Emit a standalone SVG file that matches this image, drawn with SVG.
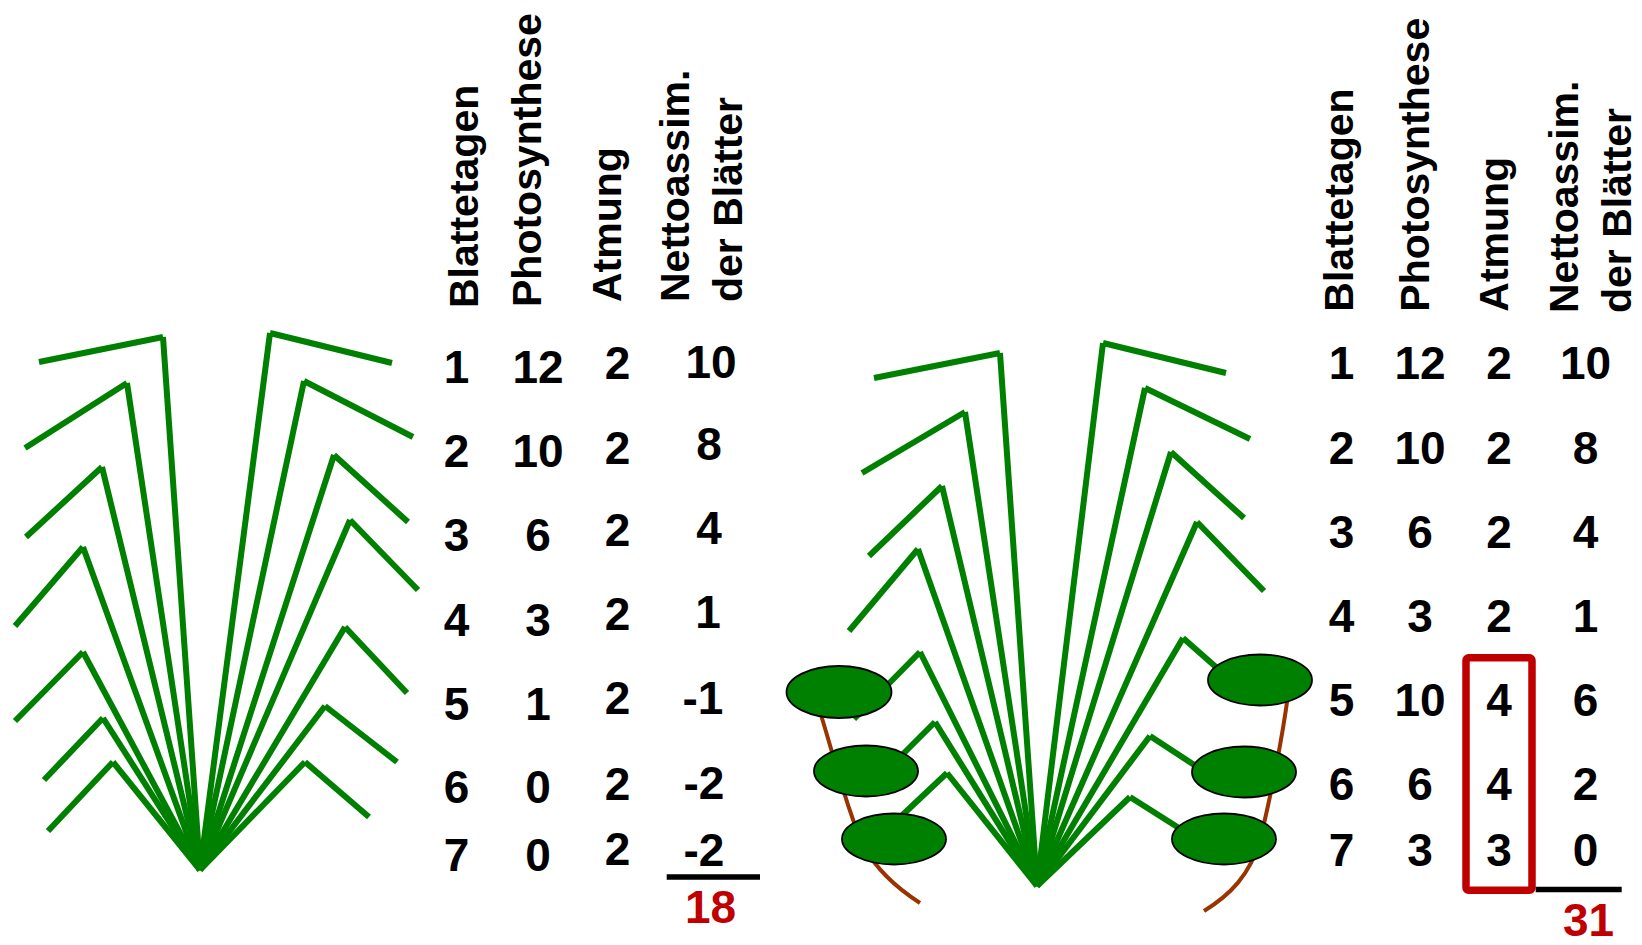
<svg xmlns="http://www.w3.org/2000/svg" width="1642" height="945" viewBox="0 0 1642 945">
  <style>
    .leaf { fill: none; stroke: #008000; stroke-width: 6; stroke-linecap: butt; }
    .stem { fill: none; stroke: #993300; stroke-width: 4; }
    .pad { fill: #008000; stroke: #000; stroke-width: 1.8; }
    .h { font-family: "Liberation Sans", Arial, sans-serif; font-weight: bold; font-size: 41px; fill: #000; }
    .n { font-family: "Liberation Sans", Arial, sans-serif; font-weight: bold; font-size: 46px; fill: #000; text-anchor: middle; }
    .sum { fill: #C00000; }
    .rule { stroke: #000; stroke-width: 5.5; }
  </style>
  <defs>
    <filter id="soft" x="-10%" y="-20%" width="120%" height="140%">
      <feGaussianBlur stdDeviation="0.6"/>
    </filter>
  </defs>

  <!-- Plant without shading: seven leaf tiers on one base -->
  <g id="plant-left">
    <path class="leaf" d="M39,362 L163,337 M163,337 L200,870"/>
    <path class="leaf" d="M25,448 L127,383 M127,383 L200,870"/>
    <path class="leaf" d="M26,537 L102,467 M102,467 L200,870"/>
    <path class="leaf" d="M15,626 L83,547 M83,547 L200,870"/>
    <path class="leaf" d="M15,721 L83,652 M83,652 L200,870"/>
    <path class="leaf" d="M44,780 L103,718 M103,718 L200,870"/>
    <path class="leaf" d="M48,831 L113,762 M113,762 L200,870"/>
    <path class="leaf" d="M392,363 L270,333 M270,333 L200,870"/>
    <path class="leaf" d="M413,437 L304,381 M304,381 L200,870"/>
    <path class="leaf" d="M408,522 L334,455 M334,455 L200,870"/>
    <path class="leaf" d="M418,590 L350,520 M350,520 L200,870"/>
    <path class="leaf" d="M407,693 L345,627 M345,627 L200,870"/>
    <path class="leaf" d="M397,762 L325,706 M325,706 L200,870"/>
    <path class="leaf" d="M369,817 L305,762 M305,762 L200,870"/>
  </g>

  <!-- Table for the unshaded plant -->
  <g id="table-left">
    <text class="h" transform="translate(477.5,308) rotate(-90)">Blattetagen</text>
    <text class="h" transform="translate(541,307) rotate(-90)">Photosynthese</text>
    <text class="h" transform="translate(621,302) rotate(-90)">Atmung</text>
    <text class="h" transform="translate(689,302) rotate(-90)">Nettoassim.</text>
    <text class="h" transform="translate(742,302) rotate(-90)">der Blätter</text>

    <text class="n" x="456.5" y="383">1</text>
    <text class="n" x="456.5" y="467">2</text>
    <text class="n" x="456.5" y="551">3</text>
    <text class="n" x="456.5" y="636">4</text>
    <text class="n" x="456.5" y="720">5</text>
    <text class="n" x="456.5" y="803">6</text>
    <text class="n" x="456.5" y="871">7</text>

    <text class="n" x="538" y="383">12</text>
    <text class="n" x="538" y="467">10</text>
    <text class="n" x="538" y="551">6</text>
    <text class="n" x="538" y="636">3</text>
    <text class="n" x="538" y="720">1</text>
    <text class="n" x="538" y="803">0</text>
    <text class="n" x="538" y="871">0</text>

    <text class="n" x="617.5" y="379">2</text>
    <text class="n" x="617.5" y="463.5">2</text>
    <text class="n" x="617.5" y="546">2</text>
    <text class="n" x="617.5" y="630">2</text>
    <text class="n" x="617.5" y="714">2</text>
    <text class="n" x="617.5" y="800">2</text>
    <text class="n" x="617.5" y="865">2</text>

    <text class="n" x="711" y="378">10</text>
    <text class="n" x="709" y="460">8</text>
    <text class="n" x="709" y="544">4</text>
    <text class="n" x="708" y="628">1</text>
    <text class="n" x="703" y="714">-1</text>
    <text class="n" x="704" y="798.5">-2</text>
    <text class="n" x="704" y="866">-2</text>

    <line class="rule" x1="666.7" y1="877" x2="760" y2="877"/>
    <text class="n sum" x="710.5" y="923">18</text>
  </g>

  <!-- Plant with shaded lower leaves -->
  <g id="plant-right">
    <path class="stem" d="M818,705 C835,760 850,820 865,848 C878,872 900,890 920,903"/>
    <path class="stem" d="M1288,695 C1282,740 1270,800 1260,840 C1250,875 1230,895 1204,911"/>

    <path class="leaf" d="M874,378 L1000,353 M1000,353 L1037,886"/>
    <path class="leaf" d="M862,473 L965,412 M965,412 L1037,886"/>
    <path class="leaf" d="M869,556 L942,486 M942,486 L1037,886"/>
    <path class="leaf" d="M849,631 L918,549 M918,549 L1037,886"/>
    <path class="leaf" d="M854,719 L920,652 M920,652 L1037,886"/>
    <path class="leaf" d="M900,757 L935,722 M935,722 L1037,886"/>
    <path class="leaf" d="M895,822 L947,773 M947,773 L1037,886"/>
    <path class="leaf" d="M1226,373 L1103,343 M1103,343 L1037,886"/>
    <path class="leaf" d="M1250,439 L1145,388 M1145,388 L1037,886"/>
    <path class="leaf" d="M1244,518 L1171,452 M1171,452 L1037,886"/>
    <path class="leaf" d="M1264,591 L1197,522 M1197,522 L1037,886"/>
    <path class="leaf" d="M1225,675 L1183,638 M1183,638 L1037,886"/>
    <path class="leaf" d="M1205,772 L1150,736 M1150,736 L1037,886"/>
    <path class="leaf" d="M1190,835 L1130,797 M1130,797 L1037,886"/>

    <ellipse class="pad" cx="839" cy="692" rx="52.5" ry="26" filter="url(#soft)"/>
    <ellipse class="pad" cx="866" cy="771" rx="52" ry="25.5" filter="url(#soft)"/>
    <ellipse class="pad" cx="894" cy="839" rx="52" ry="25.5"/>
    <ellipse class="pad" cx="1260" cy="680" rx="52" ry="25.5"/>
    <ellipse class="pad" cx="1244" cy="772" rx="52" ry="25.5"/>
    <ellipse class="pad" cx="1224" cy="839" rx="52" ry="25.5"/>
  </g>

  <!-- Table for the shaded plant -->
  <g id="table-right">
    <text class="h" transform="translate(1352.7,311.7) rotate(-90)">Blattetagen</text>
    <text class="h" transform="translate(1429.4,311.7) rotate(-90)">Photosynthese</text>
    <text class="h" transform="translate(1507.7,311.7) rotate(-90)">Atmung</text>
    <text class="h" transform="translate(1577.7,313) rotate(-90)">Nettoassim.</text>
    <text class="h" transform="translate(1631,313) rotate(-90)">der Blätter</text>

    <text class="n" x="1341.5" y="379.3">1</text>
    <text class="n" x="1341.5" y="463.5">2</text>
    <text class="n" x="1341.5" y="547.7">3</text>
    <text class="n" x="1341.5" y="631.8">4</text>
    <text class="n" x="1341.5" y="716">5</text>
    <text class="n" x="1341.5" y="800.2">6</text>
    <text class="n" x="1341.5" y="866">7</text>

    <text class="n" x="1420" y="379.3">12</text>
    <text class="n" x="1420" y="463.5">10</text>
    <text class="n" x="1420" y="547.7">6</text>
    <text class="n" x="1420" y="631.8">3</text>
    <text class="n" x="1420" y="716">10</text>
    <text class="n" x="1420" y="800.2">6</text>
    <text class="n" x="1420" y="866">3</text>

    <text class="n" x="1499" y="379.3">2</text>
    <text class="n" x="1499" y="463.5">2</text>
    <text class="n" x="1499" y="547.7">2</text>
    <text class="n" x="1499" y="631.8">2</text>
    <text class="n" x="1499" y="716">4</text>
    <text class="n" x="1499" y="800.2">4</text>
    <text class="n" x="1499" y="866">3</text>

    <text class="n" x="1585.5" y="379.3">10</text>
    <text class="n" x="1585.5" y="463.5">8</text>
    <text class="n" x="1585.5" y="547.7">4</text>
    <text class="n" x="1585.5" y="631.8">1</text>
    <text class="n" x="1585.5" y="716">6</text>
    <text class="n" x="1585.5" y="800.2">2</text>
    <text class="n" x="1585.5" y="866">0</text>

    <rect x="1466" y="657.8" width="66" height="232.5" rx="2.5" fill="none" stroke="#C00000" stroke-width="7.5"/>
    <line class="rule" x1="1535.7" y1="889.5" x2="1621.7" y2="889.5"/>
    <text class="n sum" x="1588.5" y="936">31</text>
  </g>
</svg>
